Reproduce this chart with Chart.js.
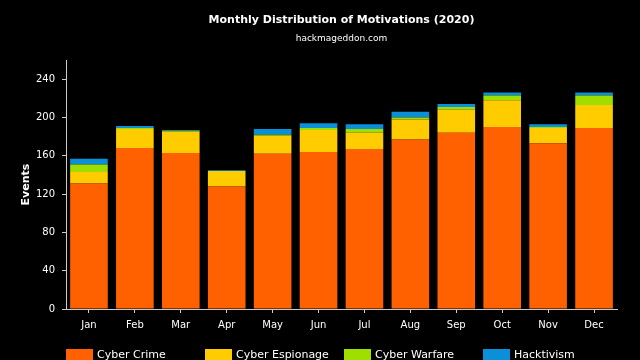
<!DOCTYPE html>
<html>
<head>
<meta charset="utf-8">
<script src="https://cdn.jsdelivr.net/npm/chart.js@4/dist/chart.umd.min.js"></script>
<style>
  html, body { margin: 0; padding: 0; background: #000; }
  #wrap { width: 640px; height: 360px; }
</style>
</head>
<body>
<div id="wrap"><canvas id="chart" width="640" height="360"></canvas></div>
<script>
const months = ["Jan", "Feb", "Mar", "Apr", "May", "Jun", "Jul", "Aug", "Sep", "Oct", "Nov", "Dec"];
const cyberCrime     = [131, 168, 163, 128, 162, 164, 167, 177, 184, 190, 173, 189];
const cyberEspionage = [12, 20, 22, 16, 19, 23, 17, 21, 24, 28, 16, 24];
const cyberWarfare   = [8, 1, 1, 0, 1, 2, 4, 2, 3, 5, 1, 10];
const hacktivism     = [6, 2, 1, 1, 6, 5, 5, 6, 3, 3, 3, 3];
const yTicks = [0, 40, 80, 120, 160, 200, 240];

const colors = ["#ff6000", "#ffcc00", "#9fdf00", "#0a8fd8"];
const names = ["Cyber Crime", "Cyber Espionage", "Cyber Warfare", "Hacktivism"];
const FONT = "'DejaVu Sans', Verdana, sans-serif";

// legend drawn by hand so the items sit on an even grid like the original
const bottomLegend = {
  id: "bottomLegend",
  afterDraw(chart) {
    const ctx = chart.ctx;
    ctx.save();
    ctx.font = "11px " + FONT;
    ctx.textBaseline = "middle";
    chart.data.datasets.forEach((ds, i) => {
      const x = 66 + i * 139;
      ctx.fillStyle = ds.backgroundColor;
      ctx.fillRect(x, 349, 27, 13);
      ctx.fillStyle = "#fff";
      ctx.fillText(ds.label, x + 31, 355);
    });
    ctx.restore();
  }
};

const series = [cyberCrime, cyberEspionage, cyberWarfare, hacktivism];

new Chart(document.getElementById("chart"), {
  type: "bar",
  data: {
    labels: months,
    datasets: series.map((d, i) => ({
      label: names[i],
      data: d,
      backgroundColor: colors[i],
      borderWidth: 0,
      categoryPercentage: 0.9,
      barPercentage: 0.91
    }))
  },
  options: {
    responsive: false,
    animation: false,
    layout: { padding: { left: 0, right: 23, top: 0, bottom: 23 } },
    plugins: {
      legend: { display: false },
      tooltip: { enabled: false },
      title: {
        display: true,
        text: "Monthly Distribution of Motivations (2020)",
        color: "#fff",
        fullSize: false,
        font: { family: FONT, size: 11, weight: "bold" },
        padding: { top: 14, bottom: 4 }
      },
      subtitle: {
        display: true,
        text: "hackmageddon.com",
        color: "#fff",
        fullSize: false,
        font: { family: FONT, size: 9 },
        padding: { top: 2, bottom: 16 }
      }
    },
    scales: {
      x: {
        stacked: true,
        ticks: { color: "#fff", font: { family: FONT, size: 10 }, padding: 6 },
        grid: { drawOnChartArea: false, offset: false, color: "#ccc", tickLength: 4 },
        border: { display: true, color: "#ccc" }
      },
      y: {
        stacked: true,
        min: 0,
        max: 260,
        afterBuildTicks: axis => { axis.ticks = yTicks.map(v => ({ value: v })); },
        afterFit: axis => { axis.width = 66; },
        ticks: { color: "#fff", font: { family: FONT, size: 10 }, padding: 7 },
        grid: { drawOnChartArea: false, color: "#ccc", tickLength: 4 },
        border: { display: true, color: "#ccc" },
        title: {
          display: true,
          text: "Events",
          color: "#fff",
          font: { family: FONT, size: 11, weight: "bold" },
          padding: { top: 20, bottom: 0 }
        }
      }
    }
  },
  plugins: [bottomLegend]
});
</script>
</body>
</html>
